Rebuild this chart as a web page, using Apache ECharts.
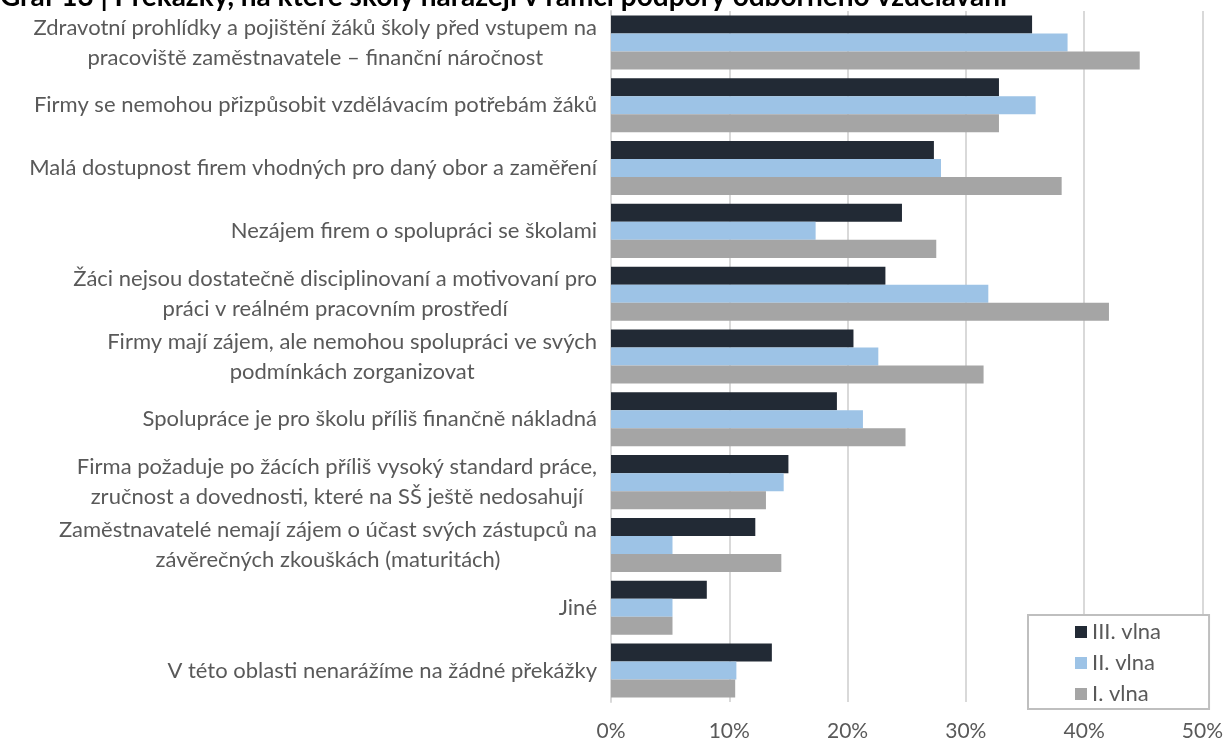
<!DOCTYPE html>
<html>
<head>
<meta charset="utf-8">
<script src="https://cdn.jsdelivr.net/npm/echarts@6/dist/echarts.min.js"></script>
<style>
html,body{margin:0;padding:0;background:#fff;}
#chart{width:1226px;height:742px;}
</style>
</head>
<body>
<div id="chart"></div>
<script>
const titleText = 'Graf 13 | Překážky, na které školy narážejí v rámci podpory odborného vzdělávání';
const categories = [
  'Zdravotní prohlídky a pojištění žáků školy před vstupem na\npracoviště zaměstnavatele – finanční náročnost',
  'Firmy se nemohou přizpůsobit vzdělávacím potřebám žáků',
  'Malá dostupnost firem vhodných pro daný obor a zaměření',
  'Nezájem firem o spolupráci se školami',
  'Žáci nejsou dostatečně disciplinovaní a motivovaní pro\npráci v reálném pracovním prostředí',
  'Firmy mají zájem, ale nemohou spolupráci ve svých\npodmínkách zorganizovat',
  'Spolupráce je pro školu příliš finančně nákladná',
  'Firma požaduje po žácích příliš vysoký standard práce,\nzručnost a dovednosti, které na SŠ ještě nedosahují',
  'Zaměstnavatelé nemají zájem o účast svých zástupců na\nzávěrečných zkouškách (maturitách)',
  'Jiné',
  'V této oblasti nenarážíme na žádné překážky'
];
const seriesNames = ['III. vlna', 'II. vlna', 'I. vlna'];
const wave3 = [35.6, 32.8, 27.3, 24.6, 23.2, 20.5, 19.1, 15.0, 12.2, 8.1, 13.6];
const wave2 = [38.6, 35.9, 27.9, 17.3, 31.9, 22.6, 21.3, 14.6, 5.2, 5.2, 10.6];
const wave1 = [44.7, 32.8, 38.1, 27.5, 42.1, 31.5, 24.9, 13.1, 14.4, 5.2, 10.5];
const colors = ['#222a35', '#9dc3e6', '#a5a5a5'];

const FONT = 'Lato';
const chart = echarts.init(document.getElementById('chart'), null, {renderer: 'canvas'});
const waves = [wave3, wave2, wave1];
const option = {
  animation: false,
  backgroundColor: '#ffffff',
  title: {
    text: titleText,
    left: 0,
    top: -17,
    padding: 0,
    textStyle: {fontFamily: FONT, fontWeight: 'bold', fontSize: 28, color: '#000000'}
  },
  grid: {left: 611, right: 22, top: 11, bottom: 40, containLabel: false},
  legend: {
    orient: 'vertical',
    left: 1028,
    top: 615,
    data: seriesNames,
    itemWidth: 12,
    itemHeight: 12,
    itemGap: 9,
    icon: 'rect',
    padding: [6, 48, 4, 47],
    backgroundColor: '#ffffff',
    borderColor: '#bfbfbf',
    borderWidth: 2,
    textStyle: {fontFamily: FONT, fontSize: 22, color: '#595959', lineHeight: 22}
  },
  xAxis: {
    type: 'value',
    min: 0,
    max: 50,
    interval: 10,
    axisLine: {show: false},
    axisTick: {show: false},
    splitLine: {show: true, lineStyle: {color: '#d9d9d9', width: 2}},
    axisLabel: {formatter: '{value}%', fontFamily: FONT, fontSize: 21, color: '#595959', margin: 19}
  },
  yAxis: {
    type: 'category',
    inverse: true,
    data: categories,
    axisLine: {show: true, lineStyle: {color: '#d9d9d9', width: 2}},
    axisTick: {show: false},
    axisLabel: {
      margin: 14,
      formatter: function (v) {
        return v.split('\n').map(function (l) { return '{c|' + l + '}'; }).join('\n');
      },
      rich: {c: {align: 'center', fontFamily: FONT, fontSize: 22, lineHeight: 30, color: '#595959'}}
    }
  },
  series: seriesNames.map(function (name, i) {
    return {
      name: name,
      type: 'bar',
      data: waves[i],
      barGap: '0%',
      barCategoryGap: '14%',
      itemStyle: {color: colors[i]}
    };
  })
};
chart.setOption(option);
</script>
</body>
</html>
